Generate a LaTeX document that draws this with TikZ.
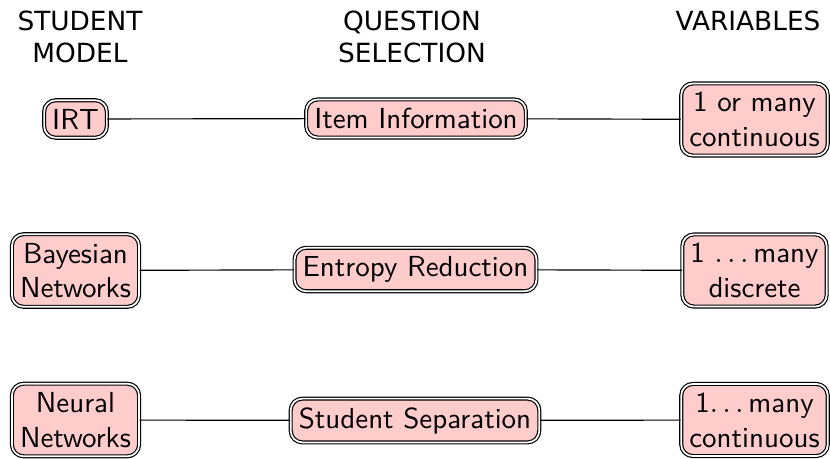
\documentclass[tikz,border=0pt]{standalone}
\usepackage{fontspec}
\newfontfamily\hdrfont{DejaVu Sans}
\begin{document}
\begin{tikzpicture}[x=0.345pt,y=-0.345pt,
  box/.style={draw, double, rounded corners, fill=red!20, align=center,
    font=\sffamily, inner xsep=2.8pt, inner ysep=3pt},
  hdr/.style={align=center, font=\hdrfont\fontsize{9.1}{11.3}\selectfont,
    inner sep=0pt, anchor=north},
  link/.style={draw, line width=0.4pt}]
\useasboundingbox (0,0) rectangle (830,458);
% headers
\node[hdr] (h1) at (80,10) {STUDENT\\MODEL};
\node[hdr] (h2) at (412,10) {QUESTION\\SELECTION};
\node[hdr] (h3) at (748,10) {VARIABLES};
% row 1
\node[box] (irt) at (75.5,119) {IRT};
\node[box] (ii) at (416,118.5) {Item Information};
\node[box] (v1) at (754.5,119.5) {1 or many\\continuous};
% row 2
\node[box] (bn) at (75.5,270.5) {Bayesian\\Networks};
\node[box] (er) at (415.5,269.5) {Entropy Reduction};
\node[box] (v2) at (754.5,270.5) {1 $\ldots$\,many\\discrete};
% row 3
\node[box] (nn) at (75.5,420) {Neural\\Networks};
\node[box] (ss) at (415,420.5) {Student Separation};
\node[box] (v3) at (754.5,420) {1$\ldots$\,many\\continuous};
% connectors
\path[link] (irt) -- (ii);
\path[link] (ii) -- (v1);
\path[link] (bn) -- (er);
\path[link] (er) -- (v2);
\path[link] (nn) -- (ss);
\path[link] (ss) -- (v3);
\end{tikzpicture}
\end{document}
